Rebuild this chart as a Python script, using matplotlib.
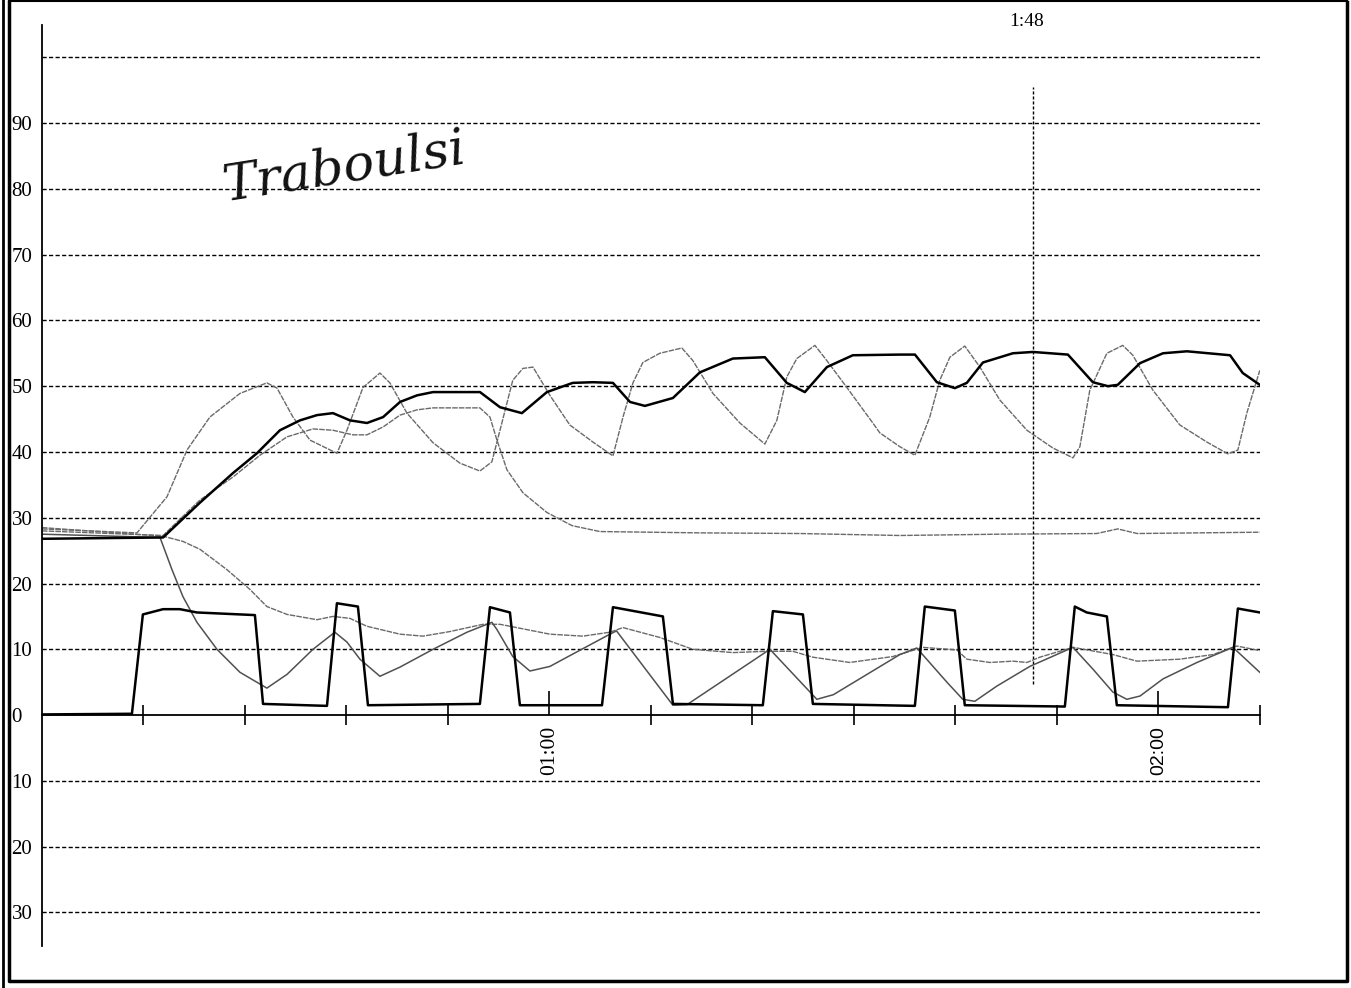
import matplotlib
matplotlib.use("Agg")
from matplotlib import pyplot as plt
from matplotlib.lines import Line2D

# time axis is in minutes from the start of the record
# thick black trace (upper)
a_t = [10.0, 21.93, 25.57, 28.83, 31.18, 33.45, 35.42, 37.10, 38.67, 40.35, 42.02, 43.61, 45.28, 46.95,
       48.53, 53.16, 55.13, 57.29, 59.75, 62.30, 64.29, 66.26, 67.94, 69.41, 72.17, 74.83, 78.08, 81.23,
       83.39, 85.17, 87.34, 89.90, 94.54, 96.02, 98.18, 99.95, 101.13, 102.72, 105.67, 107.64, 111.09,
       113.55, 115.03, 116.0, 118.20, 120.46, 122.82, 127.07, 128.32, 130.0]
a_v = [26.8, 27.0, 32.3, 36.8, 39.8, 43.3, 44.8, 45.6, 45.9, 44.8, 44.4, 45.3, 47.6, 48.6,
       49.1, 49.1, 46.8, 45.9, 49.1, 50.5, 50.6, 50.5, 47.6, 47.0, 48.2, 52.1, 54.2, 54.4,
       50.5, 49.1, 52.9, 54.7, 54.8, 54.8, 50.6, 49.7, 50.5, 53.6, 55.0, 55.2, 54.8,
       50.6, 50.0, 50.2, 53.5, 55.0, 55.3, 54.7, 52.0, 50.2]

# grey oscillating trace
b_t = [10.0, 19.36, 22.32, 24.29, 26.54, 29.51, 32.16, 33.16, 34.73, 36.41, 39.06, 40.05, 41.63, 43.30,
       44.28, 45.96, 48.53, 51.18, 53.15, 54.33, 55.13, 56.39, 57.39, 58.38, 60.05, 62.01, 64.29, 66.26,
       67.25, 68.23, 69.21, 70.88, 73.05, 74.13, 76.11, 78.77, 81.23, 82.41, 83.39, 84.38, 86.16, 87.33,
       89.31, 91.87, 92.56, 94.53, 96.01, 97.48, 98.47, 99.46, 100.93, 102.42, 104.38, 107.05, 109.61,
       111.59, 112.27, 113.25, 114.93, 116.50, 117.49, 119.46, 122.12, 124.79, 126.86, 127.84, 128.72, 130.0]
b_v = [28.3, 27.7, 33.2, 40.3, 45.3, 48.9, 50.5, 49.7, 45.3, 41.8, 39.8, 43.3, 49.8, 52.0,
       50.5, 45.9, 41.4, 38.3, 37.1, 38.5, 43.3, 50.9, 52.7, 52.9, 48.6, 44.1, 41.5, 39.4,
       45.3, 50.5, 53.6, 55.0, 55.8, 53.9, 48.9, 44.4, 41.2, 44.8, 51.4, 54.2, 56.2, 53.9,
       49.8, 44.4, 42.9, 40.8, 39.5, 45.3, 50.9, 54.4, 56.1, 52.9, 47.9, 43.3, 40.6,
       39.1, 40.8, 49.4, 55.0, 56.2, 54.7, 49.4, 44.1, 41.5, 39.7, 40.3, 45.9, 52.4]

# grey trace that follows the black one, then falls back
c_t = [10.0, 21.93, 25.57, 28.83, 31.48, 34.15, 36.70, 38.67, 40.64, 42.02, 43.61, 45.28, 46.95, 48.53,
       53.15, 54.14, 54.83, 55.81, 57.39, 59.75, 62.23, 64.98, 74.83, 84.68, 94.53, 104.38, 113.93,
       116.0, 117.92, 130.0]
c_v = [28.0, 27.3, 32.7, 36.2, 39.5, 42.3, 43.5, 43.3, 42.6, 42.6, 43.8, 45.6, 46.4, 46.7,
       46.7, 45.3, 41.8, 37.3, 33.8, 30.8, 28.8, 27.9, 27.7, 27.6, 27.3, 27.5, 27.6,
       28.3, 27.6, 27.8]

# thick black square wave (lower)
d_t = [10.0, 18.86, 19.94, 21.93, 23.59, 25.27, 30.98, 31.78, 38.08, 39.06, 41.13, 42.12, 53.15, 54.14,
       56.11, 57.09, 65.18, 66.26, 71.18, 72.17, 81.03, 82.02, 84.98, 85.96, 96.01, 96.99, 99.95, 100.93,
       110.79, 111.77, 112.95, 114.93, 115.91, 126.86, 127.84, 130.0]
d_v = [0.1, 0.2, 15.3, 16.1, 16.1, 15.6, 15.2, 1.7, 1.4, 17.0, 16.5, 1.5, 1.7, 16.4,
       15.6, 1.5, 1.5, 16.4, 15.0, 1.7, 1.5, 15.8, 15.3, 1.7, 1.4, 16.5, 15.9, 1.5,
       1.3, 16.5, 15.6, 15.0, 1.5, 1.2, 16.2, 15.6]

# grey trace falling fast, then saw-tooth
e_t = [10.0, 21.63, 22.81, 23.89, 25.27, 27.24, 29.51, 32.16, 34.15, 36.70, 38.86, 40.05, 41.33, 43.30,
       45.28, 48.53, 51.88, 54.33, 54.83, 56.39, 58.08, 60.05, 61.73, 65.96, 66.61, 72.17, 73.57, 81.73,
       86.35, 87.98, 94.53, 96.20, 99.17, 100.73, 101.92, 104.08, 107.34, 111.59, 113.55, 115.52, 116.90,
       118.20, 120.46, 123.81, 127.35, 130.0]
e_v = [27.5, 27.0, 22.1, 18.0, 14.1, 10.0, 6.5, 4.1, 6.2, 10.0, 12.6, 11.1, 8.5, 5.9,
       7.3, 10.0, 12.6, 14.1, 13.0, 8.9, 6.7, 7.4, 8.8, 12.3, 12.8, 1.5, 1.6, 10.0,
       2.4, 3.1, 9.2, 10.2, 5.0, 2.4, 2.1, 4.4, 7.4, 10.3, 7.0, 3.5, 2.4,
       2.9, 5.5, 8.0, 10.3, 6.5]

# grey trace falling slowly
f_t = [10.0, 21.93, 23.89, 25.57, 28.23, 30.49, 32.16, 34.15, 37.10, 38.67, 40.35, 42.02, 45.28, 47.54,
       50.20, 53.45, 55.13, 60.05, 63.30, 65.96, 67.25, 70.88, 74.13, 78.08, 81.43, 83.98, 85.96, 89.60,
       93.84, 96.79, 100.15, 101.13, 103.40, 105.67, 107.05, 108.32, 111.59, 115.52, 117.90, 122.12,
       125.38, 127.74, 130.0]
f_v = [28.5, 27.2, 26.4, 25.2, 22.1, 19.1, 16.5, 15.3, 14.5, 15.0, 14.7, 13.5, 12.3, 12.0,
       12.7, 13.8, 13.8, 12.3, 12.0, 12.6, 13.3, 11.8, 10.0, 9.5, 9.7, 9.7, 8.8, 8.0,
       8.9, 10.3, 9.9, 8.5, 8.0, 8.2, 8.0, 8.8, 10.3, 9.2, 8.2, 8.5,
       9.2, 10.5, 9.8]

grid_levels = [100, 90, 80, 70, 60, 50, 40, 30, 20, 10, -10, -20, -30]
ytick_vals = [90, 80, 70, 60, 50, 40, 30, 20, 10, 0, -10, -20, -30]
major_ticks = [60, 120]
major_labels = ["01:00", "02:00"]
minor_ticks = [20, 30, 40, 50, 70, 80, 90, 100, 110, 130]
marker_t = 107.64
marker_span = [4.7, 95.5]
marker_label = "1:48"
signature = "Traboulsi"

W, H = 1351, 988
fig = plt.figure(figsize=(W / 100, H / 100), dpi=100)
ax = fig.add_axes([42 / W, 1 - 946 / H, (1260 - 42) / W, (946 - 25) / H])
ax.set_xlim(10.0, 130.02)
ax.set_ylim(-35.1, 104.9)

for g in grid_levels:
    ax.axhline(g, color="black", lw=1.0, dashes=(3, 1.7), zorder=1)
ax.plot([marker_t, marker_t], marker_span, color="black", lw=1.0, dashes=(2.2, 1.4), zorder=1)

grey = "#6a6a6a"
ax.plot(f_t, f_v, color=grey, lw=1.0, dashes=(4, 0.8), zorder=2)
ax.plot(e_t, e_v, color="#505050", lw=1.1, zorder=2)
ax.plot(c_t, c_v, color=grey, lw=1.0, dashes=(4, 0.8), zorder=2)
ax.plot(b_t, b_v, color=grey, lw=1.0, dashes=(4, 0.8), zorder=2)
ax.plot(d_t, d_v, color="black", lw=1.8, zorder=3)
ax.plot(a_t, a_v, color="black", lw=1.8, zorder=3)

for s in ["top", "right"]:
    ax.spines[s].set_visible(False)
ax.spines["bottom"].set_position(("data", 0))
ax.spines["bottom"].set_linewidth(1.3)
ax.spines["left"].set_linewidth(1.3)

ax.set_xticks(major_ticks)
ax.set_xticks(minor_ticks, minor=True)
ax.set_xticklabels(major_labels, rotation=90, va="top")
ax.tick_params(axis="x", which="major", direction="in", length=17, width=1.2, pad=8)
ax.tick_params(axis="x", which="minor", direction="inout", length=15, width=1.2)
lab1, lab2 = ax.get_xticklabels()
lab1.set_fontfamily("Liberation Serif")
lab1.set_fontsize(15.5)
lab2.set_fontfamily("Liberation Sans")
lab2.set_fontsize(14)

ax.set_yticks(ytick_vals)
ax.set_yticklabels([str(abs(v)) for v in ytick_vals], fontsize=15, family="Liberation Serif", ha="left")
ax.tick_params(axis="y", length=0, pad=22)

fig.text(1027 / W, 1 - 21 / H, marker_label, ha="center", va="center", fontsize=14, family="Liberation Serif")
fig.text(345 / W, 1 - 168 / H, signature, ha="center", va="center", fontsize=37,
         family="DejaVu Serif", style="italic", rotation=9, color="#111111")

# scanned page frame
fig.add_artist(Line2D([3 / W, 3 / W], [0, 1], transform=fig.transFigure, color="black", lw=2))
fig.add_artist(Line2D([9 / W, 9 / W, 1347 / W, 1347 / W], [1 - 2 / H, 1 - 981 / H, 1 - 981 / H, 1 - 2 / H],
                      transform=fig.transFigure, color="black", lw=2.5))
fig.add_artist(Line2D([9 / W, 1347 / W], [1 - 1 / H, 1 - 1 / H], transform=fig.transFigure, color="black", lw=1.5))

fig.savefig("out.png", dpi=100)
